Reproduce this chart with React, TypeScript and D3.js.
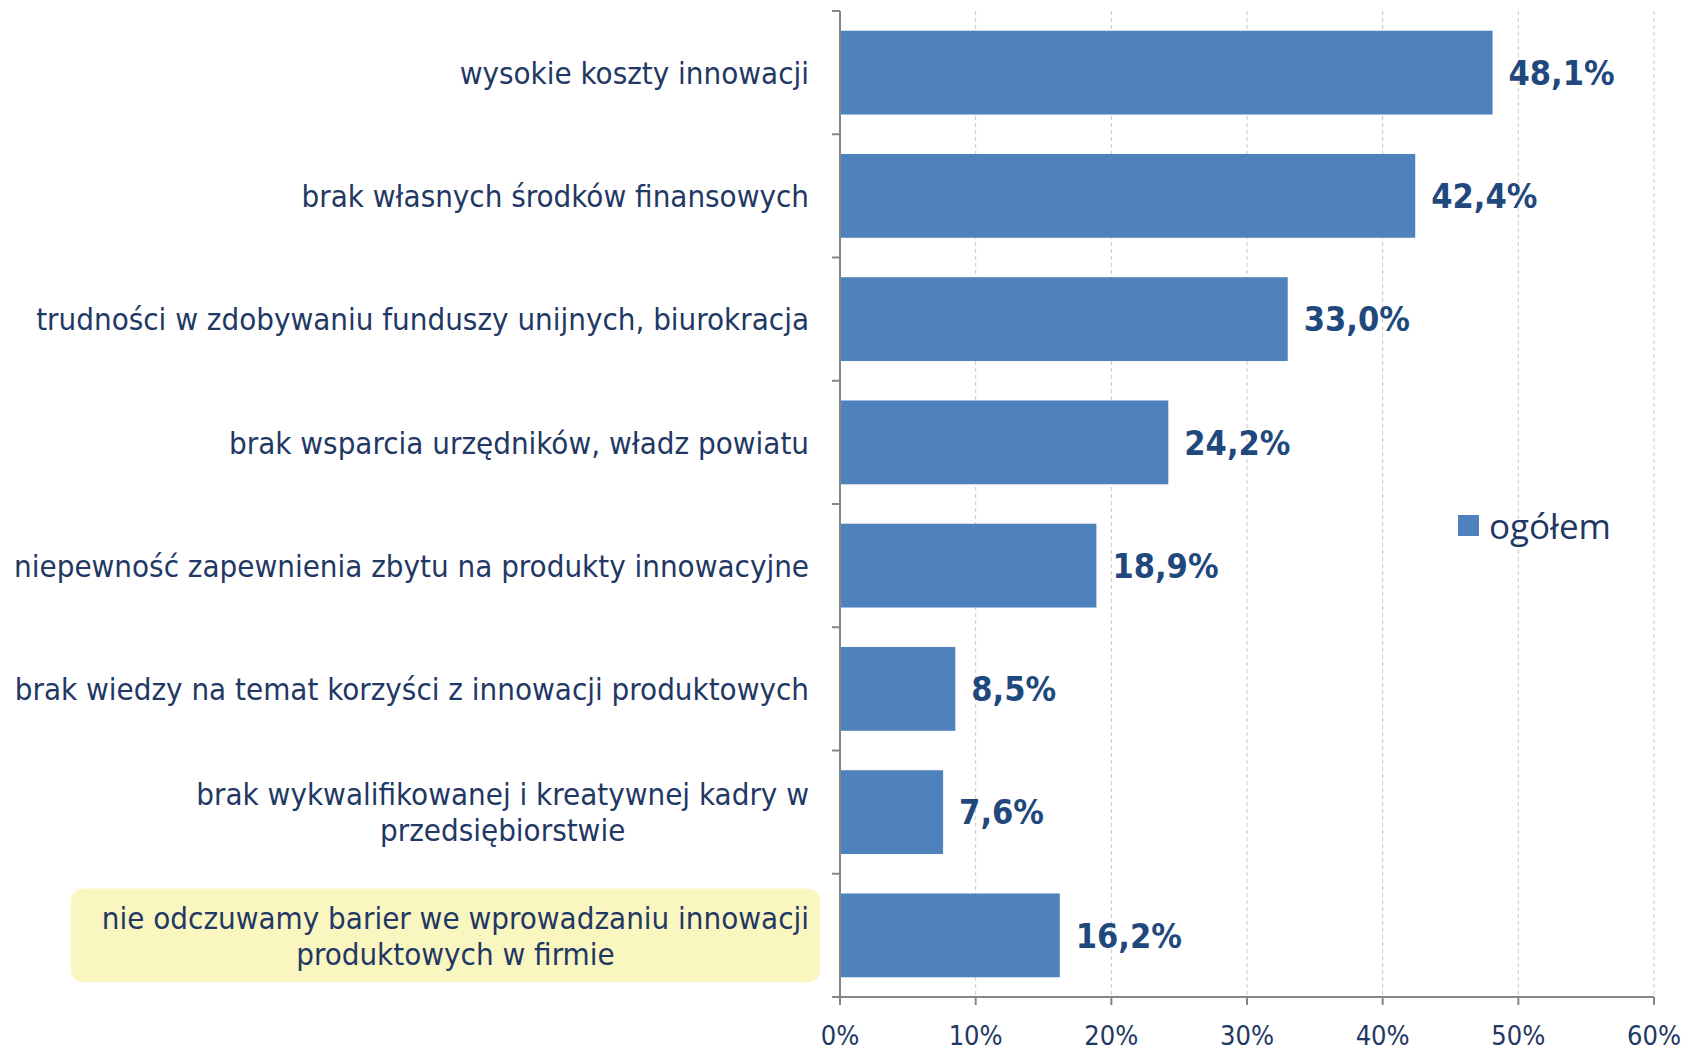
import React from "react";
import * as d3 from "d3";

const categories: string[][] = [
  ["wysokie koszty innowacji"],
  ["brak własnych środków finansowych"],
  ["trudności w zdobywaniu funduszy unijnych, biurokracja"],
  ["brak wsparcia urzędników, władz powiatu"],
  ["niepewność zapewnienia zbytu na produkty innowacyjne"],
  ["brak wiedzy na temat korzyści z innowacji produktowych"],
  ["brak wykwalifikowanej i kreatywnej kadry w", "przedsiębiorstwie"],
  ["nie odczuwamy barier we wprowadzaniu innowacji", "produktowych w firmie"],
];
const values = [48.1, 42.4, 33.0, 24.2, 18.9, 8.5, 7.6, 16.2];
const xTicks = [0, 10, 20, 30, 40, 50, 60];
const seriesName = "ogółem";

const W = 1687;
const H = 1054;
const margin = { top: 11, right: 33, bottom: 57, left: 840 };
const textColor = "#1F3864";
const barColor = "#4F81BD";
const labelFont = "'DejaVu Sans Condensed', 'DejaVu Sans', sans-serif";
const labelSize = 31;

// measure text width so multi-line labels can be centred as a block
let ctx: CanvasRenderingContext2D | null = null;
const measure = (s: string) => {
  if (!ctx) ctx = document.createElement("canvas").getContext("2d");
  if (!ctx) return s.length * labelSize * 0.5;
  ctx.font = `${labelSize}px 'DejaVu Sans Condensed'`;
  return ctx.measureText(s).width;
};

const App = () => {
  const innerW = W - margin.left - margin.right;
  const innerH = H - margin.top - margin.bottom;
  const x = d3.scaleLinear().domain([0, 60]).range([0, innerW]);
  const y = d3
    .scaleBand()
    .domain(categories.map((_, i) => String(i)))
    .range([0, innerH])
    .paddingInner(0.32)
    .paddingOuter(0.16);
  const step = y.step();
  const fmt = (v: number) => d3.format(".1f")(v).replace(".", ",") + "%";
  const labelRight = -31;

  return (
    <svg width={W} height={H} style={{ position: "absolute", left: 0, top: 0 }}>
      <g transform={`translate(${margin.left},${margin.top})`}>
        {/* grid */}
        {xTicks.slice(1).map((t) => (
          <line
            key={t}
            x1={x(t)}
            x2={x(t)}
            y1={0}
            y2={innerH}
            stroke="#C8C8C8"
            strokeWidth={1}
            strokeDasharray="4,3"
          />
        ))}
        {/* highlight box for last category */}
        <rect
          x={71 - margin.left}
          y={(y("7") as number) - 5}
          width={820 - 71}
          height={y.bandwidth() + 10}
          rx={12}
          fill="#FAF6C0"
        />
        {/* bars */}
        {values.map((v, i) => (
          <g key={i}>
            <rect
              x={x(0)}
              y={y(String(i))}
              width={x(v) - x(0)}
              height={y.bandwidth()}
              fill={barColor}
            />
            <text
              x={x(v) + 16}
              y={(y(String(i)) as number) + y.bandwidth() / 2}
              dy="0.36em"
              fill="#1F497D"
              fontSize={34}
              fontWeight="bold"
              fontFamily={labelFont}
            >
              {fmt(v)}
            </text>
          </g>
        ))}
        {/* category labels */}
        {categories.map((lines, i) => {
          const cy = (y(String(i)) as number) + y.bandwidth() / 2;
          const lh = 36;
          const multi = lines.length > 1;
          const blockW = d3.max(lines, measure) || 0;
          const cx = labelRight - blockW / 2;
          return (
            <text
              key={i}
              fill={textColor}
              fontSize={labelSize}
              fontFamily={labelFont}
              textAnchor={multi ? "middle" : "end"}
            >
              {lines.map((l, j) => (
                <tspan
                  key={j}
                  x={multi ? cx : labelRight}
                  y={cy + (j - (lines.length - 1) / 2) * lh}
                  dy="0.36em"
                >
                  {l}
                </tspan>
              ))}
            </text>
          );
        })}
        {/* left axis */}
        <line x1={0} x2={0} y1={0} y2={innerH} stroke="#868686" strokeWidth={2} />
        {d3.range(categories.length + 1).map((k) => (
          <line
            key={k}
            x1={-8}
            x2={0}
            y1={k * step}
            y2={k * step}
            stroke="#868686"
            strokeWidth={2}
          />
        ))}
        {/* bottom axis */}
        <line x1={-8} x2={innerW} y1={innerH} y2={innerH} stroke="#868686" strokeWidth={2} />
        {xTicks.map((t) => (
          <g key={t} transform={`translate(${x(t)},${innerH})`}>
            <line y1={0} y2={8} stroke="#868686" strokeWidth={2} />
            <text
              y={48}
              textAnchor="middle"
              fill={textColor}
              fontSize={27}
              fontFamily={labelFont}
            >
              {t}%
            </text>
          </g>
        ))}
        {/* legend */}
        <rect x={1458 - margin.left} y={515 - margin.top} width={21} height={21} fill={barColor} />
        <text
          x={1489 - margin.left}
          y={526 - margin.top}
          dy="0.36em"
          fill={textColor}
          fontSize={35}
          fontFamily="'Open Sans', 'Noto Sans', sans-serif"
        >
          {seriesName}
        </text>
      </g>
    </svg>
  );
};

export default App;
